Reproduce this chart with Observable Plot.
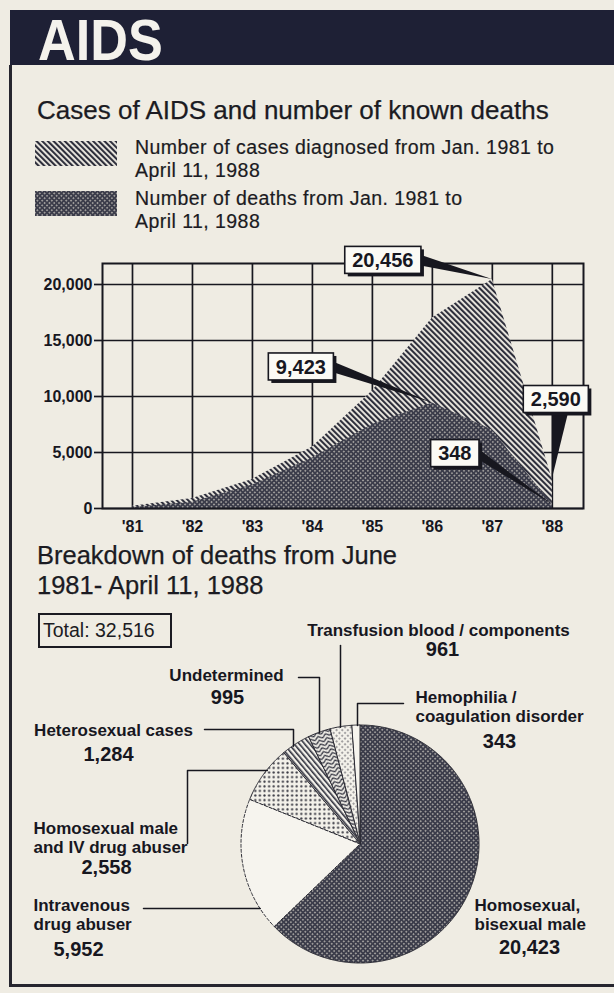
<!DOCTYPE html>
<html>
<head>
<meta charset="utf-8">
<script src="https://cdn.jsdelivr.net/npm/d3@7"></script>
<script src="https://cdn.jsdelivr.net/npm/@observablehq/plot@0.6"></script>
<style>
  html, body { margin: 0; padding: 0; background: #efece3; }
  #page { position: relative; width: 614px; height: 993px; overflow: hidden;
          font-family: "Liberation Sans", Arial, Helvetica, sans-serif; color: #1b1b22; }
  .abs { position: absolute; white-space: nowrap; }
  #bar { left: 10px; top: 10px; width: 604px; height: 55px; background: #1e2035; }
  #aids { left: 38px; top: 11px; font-size: 58px; line-height: 58px; font-weight: bold; color: #f4f2ec;
          transform: scaleX(0.9); transform-origin: left top; }
  #lborder { left: 9px; top: 65px; width: 3px; height: 922px; background: #26262f; }
  #bborder { left: 9px; top: 984px; width: 605px; height: 3px; background: #26262f; }
  .title { font-size: 26px; -webkit-text-stroke: 0.25px #1b1b22; }
  .legend { font-size: 19.5px; line-height: 22.5px; letter-spacing: 0.45px; -webkit-text-stroke: 0.2px #1b1b22; }
  #total { left: 38px; top: 613px; width: 134px; height: 35px; box-sizing: border-box; border: 2px solid #1b1b22;
           font-size: 19.5px; line-height: 31px; padding-left: 3px; }
</style>
</head>
<body>
<svg width="0" height="0" style="position:absolute">
  <defs>
    <pattern id="hatchCases" patternUnits="userSpaceOnUse" width="4" height="4" patternTransform="rotate(-45)">
      <rect width="4" height="4" fill="#efece3"/>
      <rect width="2.1" height="4" fill="#2e2f3c"/>
    </pattern>
    <pattern id="dotsDark" patternUnits="userSpaceOnUse" width="3.4" height="3.4" patternTransform="rotate(45)">
      <rect width="3.4" height="3.4" fill="#3b3c4a"/>
      <circle cx="1.7" cy="1.7" r="0.85" fill="#bdbab4"/>
    </pattern>
    <pattern id="dotsLight" patternUnits="userSpaceOnUse" width="4.6" height="4.6">
      <rect width="4.6" height="4.6" fill="#f3f1ea"/>
      <circle cx="2.3" cy="2.3" r="1.15" fill="#3a3a44"/>
    </pattern>
    <pattern id="dotsSparse" patternUnits="userSpaceOnUse" width="4" height="4" patternTransform="rotate(45)">
      <rect width="4" height="4" fill="#f3f1ea"/>
      <circle cx="2" cy="2" r="0.8" fill="#3a3a44"/>
    </pattern>
    <pattern id="stripesHetero" patternUnits="userSpaceOnUse" width="4" height="4" patternTransform="rotate(-40)">
      <rect width="4" height="4" fill="#f3f1ea"/>
      <rect width="1.6" height="4" fill="#2e2f3c"/>
    </pattern>
    <pattern id="chevron" patternUnits="userSpaceOnUse" width="8" height="4" patternTransform="rotate(-20)">
      <rect width="8" height="4" fill="#f3f1ea"/>
      <path d="M0,4 L4,1 L8,4 M0,0 L4,-3 L8,0" stroke="#2e2f3c" stroke-width="1.4" fill="none"/>
    </pattern>
    <pattern id="plainWhite" patternUnits="userSpaceOnUse" width="4" height="4">
      <rect width="4" height="4" fill="#f6f4ee"/>
    </pattern>
  </defs>
</svg>

<div id="page">
  <div id="bar" class="abs"></div>
  <div id="aids" class="abs">AIDS</div>
  <div id="lborder" class="abs"></div>
  <div id="bborder" class="abs"></div>

  <div class="abs title" style="left:37px; top:97px; line-height:26px;">Cases of AIDS and number of known deaths</div>

  <svg class="abs" style="left:35px; top:141px;" width="82" height="25"><rect width="82" height="25" fill="url(#hatchCases)"/></svg>
  <div class="abs legend" id="leg1" style="left:135px; top:136px;"></div>
  <svg class="abs" style="left:35px; top:191px;" width="82" height="25"><rect width="82" height="25" fill="url(#dotsDark)"/></svg>
  <div class="abs legend" id="leg2" style="left:135px; top:187px;"></div>

  <div class="abs title" id="bd1" style="left:37px; top:540px; font-size:25.5px; line-height:30px;">Breakdown of deaths from June<br>1981- April 11, 1988</div>
  <div class="abs" id="total"></div>
</div>

<script>
// ---------------- DATA ----------------
const years = [1981, 1982, 1983, 1984, 1985, 1986, 1987, 1988];
const yearLabels = ["'81", "'82", "'83", "'84", "'85", "'86", "'87", "'88"];
const casesDiagnosed = [200, 900, 2600, 5500, 10500, 17000, 20456, 2590];
const knownDeaths = [100, 550, 2100, 4500, 7500, 9423, 7000, 348];
const yTicks = [0, 5000, 10000, 15000, 20000];

const legendLabels = [
  ["Number of cases diagnosed from Jan. 1981 to", "April 11, 1988"],
  ["Number of deaths from Jan. 1981 to", "April 11, 1988"]
];

const calloutYears = [1987, 1986, 1988, 1988];
const calloutValues = [20456, 9423, 2590, 348];
const calloutLabels = ["20,456", "9,423", "2,590", "348"];

const pieCategories = [
  ["Homosexual,", "bisexual male"],
  ["Intravenous", "drug abuser"],
  ["Homosexual male", "and IV drug abuser"],
  ["Heterosexual cases"],
  ["Undetermined"],
  ["Transfusion blood / components"],
  ["Hemophilia /", "coagulation disorder"]
];
const pieValues = [20423, 5952, 2558, 1284, 995, 961, 343];
const sliceFills = ["url(#dotsDark)", "url(#plainWhite)", "url(#dotsLight)", "url(#stripesHetero)",
                    "url(#chevron)", "url(#dotsSparse)", "url(#plainWhite)"];

// ---------------- STYLE / LAYOUT ----------------
const ink = "#17171f";
const font = '"Liberation Sans", Arial, Helvetica, sans-serif';
const fmt = d3.format(",");
const page = document.getElementById("page");

document.getElementById("leg1").innerHTML = legendLabels[0].join("<br>");
document.getElementById("leg2").innerHTML = legendLabels[1].join("<br>");
document.getElementById("total").textContent = "Total: " + fmt(d3.sum(pieValues));

// ---------------- AREA CHART ----------------
const areaData = years.map((year, i) => ({year, cases: casesDiagnosed[i], deaths: knownDeaths[i]}));

const chart = Plot.plot({
  width: 614,
  height: 300,
  marginLeft: 102, marginRight: 31, marginTop: 23, marginBottom: 32,
  style: {background: "transparent", fontFamily: font, color: ink, overflow: "visible"},
  x: {domain: [1980.5, 1988.52]},
  y: {domain: [0, 21875]},
  marks: [
    Plot.ruleX(years, {stroke: ink, strokeWidth: 1.7}),
    Plot.ruleY(yTicks, {stroke: ink, strokeWidth: 1.7}),
    Plot.areaY(areaData, {x: "year", y: "cases", fill: "url(#hatchCases)"}),
    Plot.areaY(areaData, {x: "year", y: "deaths", fill: "url(#dotsDark)"}),
    Plot.frame({stroke: ink, strokeWidth: 2}),
    Plot.axisY({ticks: yTicks, tickSize: 8, tickPadding: 2, strokeWidth: 1.7, label: null,
                tickFormat: d3.format(","), fontSize: 16, fontWeight: "bold"}),
    Plot.axisX({ticks: years, tickSize: 0, tickPadding: 12, label: null,
                tickFormat: d => yearLabels[years.indexOf(d)], fontSize: 16, fontWeight: "bold"})
  ]
});
chart.style.position = "absolute";
chart.style.left = "0px";
chart.style.top = "240px";
page.appendChild(chart);

// callout boxes with wedge pointers, positioned via the chart's own scales
const xs = chart.scale("x"), ys = chart.scale("y");
const fx = d3.scaleLinear(xs.domain, xs.range), fy = d3.scaleLinear(ys.domain, ys.range);
const calloutOffsets = [[-109, -19], [-131, -36], [4, -80], [-97, -51]];
const calloutSides = ["right", "right", "bottom", "right"];
const cg = d3.select(chart).append("g").attr("font-family", font).attr("font-weight", "bold").attr("font-size", 20);
calloutLabels.forEach((lab, i) => {
  const px = fx(calloutYears[i]), py = fy(calloutValues[i]);
  const cx = px + calloutOffsets[i][0], cy = py + calloutOffsets[i][1];
  const g = cg.append("g");
  const t = g.append("text").attr("x", cx).attr("y", cy).attr("dy", "0.36em")
    .attr("text-anchor", "middle").attr("fill", ink).text(lab);
  const w = t.node().getBBox().width + 15, h = 27;
  const x0 = cx - w / 2, y0 = cy - h / 2;
  let base;
  if (calloutSides[i] === "right") base = [[x0 + w - 3, cy - 6], [x0 + w - 3, cy + 5]];
  else base = [[cx - 3, y0 + h - 3], [cx + 13, y0 + h - 3]];
  g.insert("polygon", "text").attr("points", [...base, [px, py]].map(p => p.join(",")).join(" ")).attr("fill", ink);
  g.insert("rect", "text").attr("x", x0 + 3).attr("y", y0 + 3).attr("width", w).attr("height", h).attr("fill", ink);
  g.insert("rect", "text").attr("x", x0).attr("y", y0).attr("width", w).attr("height", h)
    .attr("fill", "#fbfaf5").attr("stroke", ink).attr("stroke-width", 1.6);
});

// ---------------- PIE CHART ----------------
const pieTop = 600, pieHeight = 393;
const pieCenter = {x: 360, y: 844}, pieRadius = 119;
const arcs = d3.pie().sort(null).value(d => d)(pieValues);
const sliceRows = [];
arcs.forEach((a, i) => {
  const n = Math.max(3, Math.ceil((a.endAngle - a.startAngle) / 0.01));
  for (let k = 0; k <= n; k++) {
    const t = a.startAngle + (a.endAngle - a.startAngle) * k / n;
    sliceRows.push({slice: i, ax: pieCenter.x + pieRadius * Math.sin(t), ay: pieCenter.y - pieRadius * Math.cos(t),
                    cx: pieCenter.x, cy: pieCenter.y});
  }
});
const dashedSlice = 1; // the open (white) slice has a dashed rim in the original

// leader lines: elbow from label, ending on the pie rim
const leaderLayout = [
  null,
  {pts: [[143, 908]], end: "h"},
  {pts: [[187, 843], [187, 770]], end: "h"},
  {pts: [[204, 729], [293, 729]], end: "v"},
  {pts: [[298, 677], [319, 677]], end: "v"},
  {pts: [[340, 645]], end: "v"},
  {pts: [[403, 703], [357, 703]], end: "v"}
];
const leaderRows = [];
leaderLayout.forEach((L, i) => {
  if (!L) return;
  const pts = L.pts.slice();
  const [lx, ly] = pts[pts.length - 1];
  if (L.end === "h") pts.push([pieCenter.x - Math.sqrt(pieRadius ** 2 - (ly - pieCenter.y) ** 2), ly]);
  else pts.push([lx, pieCenter.y - Math.sqrt(pieRadius ** 2 - (lx - pieCenter.x) ** 2)]);
  pts.forEach(([x, y]) => leaderRows.push({id: i, x, y}));
});

const pieLabelLayout = [
  {anchor: "start", x: 474, y: 910, vx: 529, vy: 953},
  {anchor: "start", x: 33, y: 910, vx: 78, vy: 955},
  {anchor: "start", x: 33, y: 833, vx: 106, vy: 873},
  {anchor: "middle", x: 113, y: 735, vx: 108, vy: 760},
  {anchor: "middle", x: 226, y: 680, vx: 227, vy: 703},
  {anchor: "middle", x: 438, y: 635, vx: 442, vy: 655},
  {anchor: "start", x: 415, y: 702, vx: 499, vy: 747}
];
const nameRows = [], valueRows = [];
pieCategories.forEach((lines, i) => {
  const L = pieLabelLayout[i];
  lines.forEach((s, j) => nameRows.push({x: L.x, y: L.y + j * 19, text: s, anchor: L.anchor}));
  valueRows.push({x: L.vx, y: L.vy, text: fmt(pieValues[i])});
});

const pie = Plot.plot({
  width: 614,
  height: pieHeight,
  margin: 0,
  style: {background: "transparent", fontFamily: font, color: ink, overflow: "visible"},
  x: {domain: [0, 614], axis: null},
  y: {domain: [pieTop + pieHeight, pieTop], axis: null},
  color: {type: "identity"},
  marks: [
    Plot.area(sliceRows.filter(d => d.slice !== dashedSlice), {x1: "ax", y1: "ay", x2: "cx", y2: "cy", z: "slice",
                          fill: d => sliceFills[d.slice], stroke: "#2a2a33", strokeWidth: 1}),
    Plot.area(sliceRows.filter(d => d.slice === dashedSlice), {x1: "ax", y1: "ay", x2: "cx", y2: "cy", z: "slice",
                          fill: d => sliceFills[d.slice], stroke: "#2a2a33", strokeWidth: 1, strokeDasharray: "3,2"}),
    Plot.line(leaderRows, {x: "x", y: "y", z: "id", stroke: ink, strokeWidth: 1.5}),
    Plot.text(nameRows.filter(d => d.anchor === "start"), {x: "x", y: "y", text: "text", textAnchor: "start",
              lineAnchor: "bottom", fontSize: 17, fontWeight: "bold", fill: ink}),
    Plot.text(nameRows.filter(d => d.anchor === "middle"), {x: "x", y: "y", text: "text", textAnchor: "middle",
              lineAnchor: "bottom", fontSize: 17, fontWeight: "bold", fill: ink}),
    Plot.text(valueRows, {x: "x", y: "y", text: "text", textAnchor: "middle",
              lineAnchor: "bottom", fontSize: 20, fontWeight: "bold", fill: ink})
  ]
});
pie.style.position = "absolute";
pie.style.left = "0px";
pie.style.top = pieTop + "px";
page.appendChild(pie);
</script>
</body>
</html>
